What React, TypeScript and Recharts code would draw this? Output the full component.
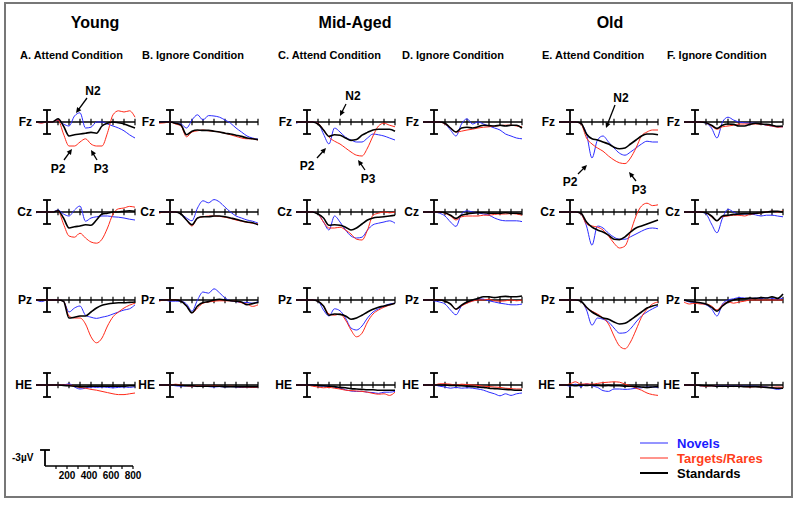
import { Line, LineChart, ReferenceLine, XAxis, YAxis } from "recharts";

// ERP amplitudes in µV (positive plotted downward), sampled every 50 ms from -100 to 800 ms
const times = [-100, -50, 0, 50, 100, 150, 200, 250, 300, 350, 400, 450, 500, 550, 600, 650, 700, 750, 800];
const axisTicks = [100, 200, 300, 400, 500, 600, 700, 800];
const calibLabels = [200, 400, 600, 800];

// Young - attend (A)
const aFzNov = [0, 0.2, 0, 0, -0.5, 0.5, 1, -1.5, -2.3, 1.5, 1.3, 0, 0, 0.5, 1, 1.5, 2.2, 3.2, 4];
const aFzTar = [0, 0.3, 0, 0, -0.5, 3, 6, 6, 5, 4.2, 5.5, 6, 6, 2.7, -1.8, -2.8, -2.5, -2.8, -1.2];
const aFzStd = [0, 0, 0, 0, -0.8, 1, 3.5, 3.2, 3, 2.8, 2.6, 2.8, 1, 0.3, 0, 0.2, 0.5, 1, 1.5];
const aCzNov = [0.2, 0, 0, 0, -0.5, 0.5, 1, -0.5, -1.5, 2.3, 1.5, 1.2, 1, 1, 1.2, 1.3, 1.5, 1.8, 2];
const aCzTar = [0, 0, 0, 0, -0.3, 3, 6, 6.3, 5.3, 6.5, 7.5, 7.8, 6.8, 4, 0.5, -0.8, -1, -1.4, -1.2];
const aCzStd = [0, 0, 0, 0, -0.3, 1.5, 4, 3.7, 3.5, 3.2, 3.3, 2, 0.5, 0.3, 0, 0, -0.2, -0.3, -0.2];
const aPzNov = [0, 0.4, 0, 0, 0, 0.3, 3, 2, 1.5, 3.8, 4.3, 4.6, 4.3, 4, 3.5, 3, 2.5, 2.2, 1.2];
const aPzTar = [0, 0, 0, 0, 0, 0.3, 4, 4.5, 4.5, 6, 9.2, 10.7, 9.5, 6.5, 4.2, 3, 2, 1.3, 0.8];
const aPzStd = [0, 0, 0, 0, 0, 0.3, 4.5, 4.3, 4, 4, 3, 2, 1.3, 1, 0.8, 0.7, 0.7, 0.6, 0.5];
const aHeNov = [0, 0, 0, 0, 0, 0, -0.3, 0.5, 1, 0.8, 0.5, 0.6, 0.5, 0.6, 0.7, 0.6, 0.5, 0.6, 0.4];
const aHeTar = [0, 0, 0, 0, 0, 0, 0, 0.3, 0.6, 0.8, 1.1, 1.3, 1.6, 1.9, 2.2, 2.4, 2.4, 2.2, 2];
const aHeStd = [0, 0, 0, 0, 0, 0.1, 0.2, 0.3, 0.4, 0.4, 0.3, 0.3, 0.3, 0.3, 0.3, 0.3, 0.3, 0.2, 0.2];

// Young - ignore (B)
const bFzNov = [0, 0, 0, 0.3, 0.5, 1.5, -0.5, -1.8, -0.5, -1.6, -1.5, -1.2, -0.5, 0.3, 1.5, 2.5, 3.5, 4, 4.3];
const bFzTar = [0.3, 0.2, 0, 0.5, 1, 3.7, 2.5, 2.2, 2, 2.2, 2.3, 2.5, 2.8, 3.2, 3.6, 4, 4.2, 4.2, 4.5];
const bFzStd = [0, 0, 0, 0.3, 0.8, 3.2, 2.3, 2, 2.1, 2.1, 2.3, 2.5, 2.8, 3, 3.3, 3.6, 4, 4.2, 4.4];
const bCzNov = [0, 0, 0, 0, 0.5, 1.5, 2.2, -1, -2.8, -2.3, -3.1, -2.5, -1.2, 0, 1, 1.5, 2, 2.3, 2.8];
const bCzTar = [0.3, 0, 0, 0, 0.5, 2, 3.5, 1.5, 1.2, 1, 1, 1.1, 1.3, 1.6, 2, 2.3, 2.6, 2.8, 3];
const bCzStd = [0, 0, 0, 0, 0.5, 2, 3.2, 1.5, 1.2, 1.2, 1, 1, 1.2, 1.5, 1.8, 2.2, 2.5, 2.7, 3.2];
const bPzNov = [0, 0, 0.3, 0.3, 0.3, 1, 2.8, 0, -2, -1.7, -2.8, -1.8, -0.5, 0.2, 0.4, 0.6, 0.6, 0.8, 0.4];
const bPzTar = [0.3, 0, 0, 0, 0.3, 1.5, 3.2, 2, 0.8, 0.5, 0.3, 0.2, 0.2, 0.2, 0.3, 0.7, 1, 1.6, 1.2];
const bPzStd = [0, 0, 0, 0, 0.3, 1.5, 3.2, 1.5, 0.6, 0.4, 0, -0.2, 0, 0.2, 0.3, 0.5, 1.2, 0.9, 0.6];
const bHeNov = [0, 0, 0, 0.2, 0.3, 0.2, 0.3, 0.4, 0.3, 0.4, 0.5, 0.4, 0.5, 0.4, 0.5, 0.6, 0.5, 0.6, 0.5];
const bHeTar = [0, 0, 0, -0.2, 0, 0.2, 0.3, 0.2, 0.3, 0.3, 0.2, 0.3, 0.4, 0.3, 0.4, 0.5, 0.5, 0.6, 0.5];
const bHeStd = [0, 0, 0, 0, 0.1, 0.2, 0.2, 0.3, 0.3, 0.3, 0.3, 0.3, 0.4, 0.4, 0.4, 0.4, 0.4, 0.4, 0.4];

// Mid-aged - attend (C)
const cFzNov = [0.3, 0, 0, 0, 0.3, 3, 5.5, 1.5, 2.5, 3.8, 4.5, 5, 5, 4, 3, 3.2, 3.5, 4, 4.5];
const cFzTar = [0, 0, 0, 0, 0.3, 2, 3.8, 4.8, 5.5, 6.5, 7.5, 8.3, 8.5, 6.5, 3.5, 1, 0.3, 0.8, 1.2];
const cFzStd = [0, 0, 0, 0, 0.5, 2, 3.6, 3.2, 3.3, 4, 4.6, 4.4, 3.3, 2.6, 2, 1.8, 1.8, 1.8, 2.3];
const cCzNov = [0, 0, 0, 0, 0.5, 2.5, 4.5, 1, 2.5, 4.5, 6, 6.5, 6.3, 4.5, 3.2, 2.8, 2.5, 2.2, 2.8];
const cCzTar = [0, 0, 0, 0, 0.5, 2.5, 4, 4, 3.8, 4.5, 5.5, 6.8, 7, 4.5, 0.8, 0.3, 0, 0.2, 0];
const cCzStd = [0, 0, 0, 0, 0.5, 1.5, 3.3, 3.2, 3.3, 3.8, 4.5, 4, 3, 2, 1.5, 1.3, 1.2, 1, 0.8];
const cPzNov = [0, 0, 0, 0, 0.3, 2.5, 4, 2.2, 2.7, 4.5, 7, 7.5, 6.5, 4.5, 3, 2.2, 1.5, 1, 0.8];
const cPzTar = [0, 0, 0, 0, 0.3, 1.5, 3.5, 3.8, 3.5, 5, 7.5, 9.2, 8.3, 5.5, 3.5, 2.5, 1.8, 1.3, 0.8];
const cPzStd = [0, 0, 0, 0, 0.3, 1.5, 3.8, 3.5, 3.6, 4, 4.8, 4.5, 3.8, 3, 2.3, 1.8, 1.5, 1.2, 0.8];
const cHeNov = [0, 0, 0, 0, 0.2, 0.3, 0.3, 0.5, 0.8, 1.2, 1.5, 1.6, 1.6, 1.8, 1.9, 2.1, 1.8, 1.8, 1.6];
const cHeTar = [0, 0, 0, 0.3, 0.5, 0.7, 0.6, 0.8, 1, 1.3, 1.4, 1.5, 1.6, 1.8, 2.1, 2.3, 2.2, 2.6, 1.8];
const cHeStd = [0, 0, 0, 0, 0.1, 0.2, 0.3, 0.4, 0.6, 0.7, 0.9, 1, 1.1, 1.2, 1.2, 1.3, 1.3, 1.3, 1.3];

// Mid-aged - ignore (D)
const dFzNov = [0, 0, 0, 0, 0.5, 2, 3.5, 0.5, -0.8, 0.5, 0, 0.5, 1, 1.5, 2, 3, 3.5, 4, 4.2];
const dFzTar = [0, 0, 0, 0, 0.5, 1.5, 2.5, 2.3, 2, 1.8, 1.5, 1.3, 1.2, 1, 0.9, 0.8, 0.8, 1, 1.2];
const dFzStd = [0, 0, 0, 0, 0.3, 1.5, 2.5, 1.5, 1.3, 1.5, 1.2, 0.8, 0.9, 1, 0.8, 1, 0.8, 0.8, 1.5];
const dCzNov = [0, 0, 0, 0.3, 1, 2.5, 3.6, 0.5, -0.3, 0, 0.2, 0.5, 0.8, 1.5, 2, 2.2, 2.2, 2.2, 2.4];
const dCzTar = [0, 0, 0, 0, 0.3, 1, 2, 1.2, 1, 1, 1, 0.8, 0.8, 0.6, 0.5, 0.5, 0.4, 0.5, 0.8];
const dCzStd = [0, 0, 0, 0, 0.2, 0.8, 1.6, 0.8, 0.5, 0.3, 0.2, 0.2, 0.3, 0.3, 0.3, 0.2, 0.3, 0.3, 0.5];
const dPzNov = [0, 0, 0.2, 0.5, 1, 2.5, 3.7, 1.5, 0.7, 0.2, -0.3, -0.2, 0.2, 0.5, 0.8, 1, 1.2, 1.2, 1];
const dPzTar = [0, 0, 0, 0, 0.3, 1, 2.3, 1.5, 0.8, 0.3, 0, 0, -0.2, 0.2, 0.3, 0.2, 0, 0.2, 0];
const dPzStd = [0, 0, 0, 0, 0.3, 1, 2.3, 1.3, 0.5, 0, -0.4, -0.8, -0.8, -0.6, -0.8, -0.9, -0.8, -0.8, -1];
const dHeNov = [0, 0, 0, 0.3, 0.5, 0.8, 0.6, 0.8, 0.7, 0.8, 1, 1.3, 1.8, 2.2, 2.7, 2.2, 2.6, 2.2, 2];
const dHeTar = [0, 0, 0, -0.3, -0.3, -0.2, 0, -0.2, -0.1, 0, 0.1, 0.3, 0.4, 0.5, 0.6, 0.8, 0.9, 1, 1];
const dHeStd = [0, 0, 0, 0, 0, 0.1, 0.1, 0.2, 0.3, 0.4, 0.5, 0.6, 0.8, 0.9, 1, 1.1, 1.2, 1.3, 1.3];

// Old - attend (E)
const eFzNov = [0, 0, 0, 0, 0.5, 3, 9, 4.5, 3.5, 5, 6.5, 7.8, 8.3, 7.5, 6.5, 5.5, 4.8, 5, 5];
const eFzTar = [0, 0, 0, 0, 0.5, 4, 5.5, 6.5, 7.3, 8.5, 9.5, 10.2, 10.4, 9, 6.5, 3.5, 2.5, 2, 2];
const eFzStd = [0, 0, 0, 0, 0.3, 3, 4.2, 4.5, 5, 5.5, 6.3, 6.7, 6.5, 5.5, 4.5, 3.5, 3, 3, 3.2];
const eCzNov = [0, 0, 0, 0, 0.5, 3.5, 8.3, 3.5, 4, 5.3, 6.3, 6.8, 6.8, 6.2, 5.5, 4.8, 4.2, 4, 4.2];
const eCzTar = [0, 0, 0, 0, 0.5, 3, 3.5, 3.8, 4.5, 6, 7.8, 9, 8.5, 5, 1, -1.5, -2.2, -1.6, -1.8];
const eCzStd = [0, 0, 0, 0, 0.3, 2.5, 3.8, 4.5, 5, 5.8, 6.8, 6.9, 6.2, 5, 4, 3.5, 3, 2.5, 2];
const ePzNov = [0, 0, 0, 0, 0.3, 2.5, 6.3, 4.5, 4.8, 5.5, 7, 8.3, 8.2, 7.2, 5.5, 4, 3, 2.2, 1.5];
const ePzTar = [0, 0, 0, 0, 0.3, 2, 2.8, 3.5, 4.5, 6, 9, 11.5, 12.2, 10.5, 7.5, 4.3, 2.3, 1, 0.5];
const ePzStd = [0, 0, 0, 0, 0.3, 1.8, 3, 3.8, 4.5, 4.8, 5.5, 6, 5.8, 5, 4, 3, 2, 1.5, 1.2];
const eHeNov = [0, 0, 0.3, -0.2, 0.4, -0.3, 0.2, 0.6, 1.4, 1.6, 1, 1, 1.1, 1, 0.8, 0.7, 0.5, 0.5, 0.6];
const eHeTar = [0, 0, -0.3, -0.8, -0.2, -0.3, -0.2, -0.4, -0.6, -0.7, -0.8, -0.7, -0.2, 0.2, 0.8, 1.3, 2, 2.4, 2.6];
const eHeStd = [0, 0, 0, 0.2, 0, 0.1, 0, 0.1, 0.2, 0.1, 0.2, 0.2, 0.3, 0.3, 0.4, 0.5, 0.6, 0.5, 0.4];

// Old - ignore (F)
const fFzNov = [0, 0, 0, 0, 0.3, 1.5, 4, 0, -1.2, -0.5, 0, 0.2, 0.3, 0.3, 0.5, 0.8, 1, 1.2, 1.2];
const fFzTar = [0, 0, 0, 0, 0.2, 1, 1.8, 1.2, 1, 0.8, 0.5, 0.5, 0.5, 0.5, 0.5, 0.8, 1, 1.3, 1.2];
const fFzStd = [0, 0, 0, 0, 0.2, 0.8, 1.6, 0.8, 0.5, 0.6, 1, 1, 0.6, 0.3, 0.5, 0.6, 0.8, 1.1, 1];
const fCzNov = [0, 0, 0, 0, 0.5, 3, 5.2, 1.5, -0.7, 0, 0.5, 0.5, 0.5, 0.7, 1, 0.8, 0.8, 1, 1.2];
const fCzTar = [0, 0, 0, 0, 0.2, 1.2, 2.2, 1.2, 1, 0.8, 0.8, 1, 0.6, 0.4, 0.2, 0, -0.2, 0, -0.3];
const fCzStd = [0, 0, 0, 0, 0.2, 1, 2.2, 1, 0.8, 0.6, 0.5, 0.4, 0.4, 0.3, 0.2, 0, -0.2, -0.2, 0];
const fPzNov = [0, 0.5, 0.6, 0.8, 1.2, 2.2, 4, 1, 0, -0.3, -0.6, -0.5, -0.3, -0.5, -0.3, -0.6, -0.4, -0.2, -0.5];
const fPzTar = [0.5, 1, 0.8, 1, 1, 1.5, 2.5, 1.2, 0.5, 0.8, 0.5, 0.3, 0, 0, 0, 0, 0, 0, 0];
const fPzStd = [0, 0.3, 0.5, 0.7, 1, 1.8, 2.8, 1.5, 0.5, 0, -0.3, -0.3, -0.5, -0.4, -0.6, -0.5, -0.8, -0.4, -1.5];
const fHeNov = [0, 0, 0, 0.2, 0.2, 0.2, 0.2, 0.3, 0.2, 0.3, 0.2, 0.3, 0.3, 0.3, 0.4, 0.5, 0.8, 1.1, 0.8];
const fHeTar = [0, 0, 0, 0.2, 0.3, 0.2, 0.3, 0.4, 0.3, 0.4, 0.3, 0.4, 0.5, 0.4, 0.5, 0.6, 0.6, 0.5, 0.6];
const fHeStd = [0, 0, 0, 0.1, 0.2, 0.2, 0.3, 0.3, 0.3, 0.3, 0.3, 0.4, 0.4, 0.4, 0.5, 0.6, 0.7, 0.8, 0.8];

const groups = ["Young", "Mid-Aged", "Old"];
const conditions = [
  "A. Attend Condition",
  "B. Ignore Condition",
  "C. Attend Condition",
  "D. Ignore Condition",
  "E. Attend Condition",
  "F. Ignore Condition",
];
const electrodes = ["Fz", "Cz", "Pz", "HE"];

const columns = [
  [[aFzNov, aFzTar, aFzStd], [aCzNov, aCzTar, aCzStd], [aPzNov, aPzTar, aPzStd], [aHeNov, aHeTar, aHeStd]],
  [[bFzNov, bFzTar, bFzStd], [bCzNov, bCzTar, bCzStd], [bPzNov, bPzTar, bPzStd], [bHeNov, bHeTar, bHeStd]],
  [[cFzNov, cFzTar, cFzStd], [cCzNov, cCzTar, cCzStd], [cPzNov, cPzTar, cPzStd], [cHeNov, cHeTar, cHeStd]],
  [[dFzNov, dFzTar, dFzStd], [dCzNov, dCzTar, dCzStd], [dPzNov, dPzTar, dPzStd], [dHeNov, dHeTar, dHeStd]],
  [[eFzNov, eFzTar, eFzStd], [eCzNov, eCzTar, eCzStd], [ePzNov, ePzTar, ePzStd], [eHeNov, eHeTar, eHeStd]],
  [[fFzNov, fFzTar, fFzStd], [fCzNov, fCzTar, fCzStd], [fPzNov, fPzTar, fPzStd], [fHeNov, fHeTar, fHeStd]],
];

// layout (px)
const barX = [47, 170, 307, 434, 570, 695];
const baseY = [122, 212, 300, 385];
const titleX = [95, 355, 610];
const headerX = [20, 142, 278, 402, 542, 667];
const PX_MS = 0.11;
const PX_UV = 4;
const PAD = 5;

const NOVEL = "#2b2bff";
const TARGET = "#ff2a1a";
const FONT = "'Liberation Sans', Arial, sans-serif";

const Panel = ({ x0, y0, nov, tar, std }) => {
  const data = times.map((t, i) => ({ t, nov: nov[i], tar: tar[i], std: std[i] }));
  const w = 900 * PX_MS;
  const h = 22 * PX_UV;
  return (
    <div style={{ position: "absolute", left: x0 - 100 * PX_MS - PAD, top: y0 - 8 * PX_UV - PAD }}>
      <LineChart
        width={w + PAD * 2}
        height={h + PAD * 2}
        data={data}
        margin={{ top: PAD, right: PAD, bottom: PAD, left: PAD }}
      >
        <XAxis dataKey="t" type="number" domain={[-100, 800]} hide />
        <YAxis type="number" domain={[-8, 14]} reversed hide />
        <ReferenceLine y={0} stroke="#000" strokeWidth={1.5} />
        {axisTicks.map((t) => (
          <ReferenceLine key={t} segment={[{ x: t, y: -0.8 }, { x: t, y: 0.8 }]} stroke="#000" strokeWidth={1.2} />
        ))}
        <ReferenceLine segment={[{ x: 0, y: -3 }, { x: 0, y: 3 }]} stroke="#000" strokeWidth={1.8} />
        <ReferenceLine segment={[{ x: -36, y: -3 }, { x: 36, y: -3 }]} stroke="#000" strokeWidth={1.8} />
        <ReferenceLine segment={[{ x: -36, y: 3 }, { x: 36, y: 3 }]} stroke="#000" strokeWidth={1.8} />
        <Line type="monotone" dataKey="nov" stroke={NOVEL} strokeWidth={1} dot={false} isAnimationActive={false} />
        <Line type="monotone" dataKey="tar" stroke={TARGET} strokeWidth={1} dot={false} isAnimationActive={false} />
        <Line type="monotone" dataKey="std" stroke="#000" strokeWidth={1.6} dot={false} isAnimationActive={false} />
      </LineChart>
    </div>
  );
};

// scale bar + time axis in the lower left corner
const Calibration = () => {
  const w = 800 * PX_MS;
  const data = [0, 800].map((t) => ({ t, base: 0 }));
  const LEFT = 10;
  const RIGHT = 12;
  return (
    <div style={{ position: "absolute", left: 45 - LEFT, top: 466 - 6 * PX_UV - PAD }}>
      <LineChart
        width={w + LEFT + RIGHT}
        height={6 * PX_UV + PAD + 16}
        data={data}
        margin={{ top: PAD, right: RIGHT, bottom: 0, left: LEFT }}
      >
        <XAxis
          dataKey="t"
          type="number"
          domain={[0, 800]}
          ticks={axisTicks}
          interval={0}
          axisLine={false}
          tickLine={{ stroke: "#000", strokeWidth: 1.2 }}
          tickSize={3}
          tickMargin={3}
          height={16}
          tickFormatter={(v) => (calibLabels.includes(v) ? String(v) : "")}
          tick={{ fontSize: 10, fontWeight: "bold", fill: "#000", fontFamily: FONT }}
        />
        <YAxis type="number" domain={[-6, 0]} reversed hide />
        <ReferenceLine segment={[{ x: 0, y: -4 }, { x: 0, y: 0 }]} stroke="#000" strokeWidth={1.8} />
        <ReferenceLine
          segment={[{ x: -45, y: -4 }, { x: 45, y: -4 }]}
          stroke="#000"
          strokeWidth={1.8}
          ifOverflow="visible"
        />
        <Line type="linear" dataKey="base" stroke="#000" strokeWidth={1.5} dot={false} isAnimationActive={false} />
      </LineChart>
    </div>
  );
};

const Arrow = ({ x1, y1, x2, y2 }) => {
  const a = Math.atan2(y2 - y1, x2 - x1);
  const s = 6;
  const p1 = [x2 - s * Math.cos(a - 0.45), y2 - s * Math.sin(a - 0.45)];
  const p2 = [x2 - s * Math.cos(a + 0.45), y2 - s * Math.sin(a + 0.45)];
  return (
    <g>
      <line x1={x1} y1={y1} x2={x2 - 3 * Math.cos(a)} y2={y2 - 3 * Math.sin(a)} stroke="#000" strokeWidth={1.3} />
      <polygon points={`${x2},${y2} ${p1[0]},${p1[1]} ${p2[0]},${p2[1]}`} fill="#000" />
    </g>
  );
};

const notes = [
  { label: "N2", tx: 93, ty: 91, x1: 87, y1: 98, x2: 76, y2: 113 },
  { label: "P2", tx: 58, ty: 169, x1: 64, y1: 160, x2: 72, y2: 149 },
  { label: "P3", tx: 101, ty: 169, x1: 97, y1: 160, x2: 91, y2: 150 },
  { label: "N2", tx: 353, ty: 96, x1: 346, y1: 104, x2: 340, y2: 116 },
  { label: "P2", tx: 307, ty: 166, x1: 317, y1: 158, x2: 326, y2: 148 },
  { label: "P3", tx: 368, ty: 179, x1: 365, y1: 170, x2: 358, y2: 160 },
  { label: "N2", tx: 621, ty: 98, x1: 615, y1: 105, x2: 606, y2: 128 },
  { label: "P2", tx: 570, ty: 182, x1: 578, y1: 174, x2: 587, y2: 165 },
  { label: "P3", tx: 639, ty: 190, x1: 636, y1: 181, x2: 629, y2: 172 },
];

const legend = [
  { label: "Novels", color: NOVEL, text: "#1a1aff", width: 1 },
  { label: "Targets/Rares", color: TARGET, text: "#ff3d1a", width: 1 },
  { label: "Standards", color: "#000", text: "#000", width: 2 },
];

export default function App() {
  return (
    <div style={{ position: "absolute", left: 0, top: 0, width: 800, height: 507, background: "#fff", fontFamily: FONT }}>
      <svg width={800} height={507} style={{ position: "absolute", left: 0, top: 0 }}>
        <rect x={5} y={3} width={787} height={494} fill="none" stroke="#777" strokeWidth={2} />
        {groups.map((g, i) => (
          <text key={g} x={titleX[i]} y={28} textAnchor="middle" fontSize={16} fontWeight="bold" fontFamily={FONT}>
            {g}
          </text>
        ))}
        {conditions.map((c, i) => (
          <text key={c} x={headerX[i]} y={59} fontSize={11} fontWeight="bold" fontFamily={FONT}>
            {c}
          </text>
        ))}
        {barX.map((bx) =>
          electrodes.map((e, r) => (
            <text key={`${bx}-${e}`} x={bx - 15} y={baseY[r] + 4} textAnchor="end" fontSize={12} fontWeight="bold" fontFamily={FONT}>
              {e}
            </text>
          ))
        )}
        {notes.map((n, i) => (
          <g key={i}>
            <text x={n.tx} y={n.ty + 4} textAnchor="middle" fontSize={12} fontWeight="bold" fontFamily={FONT}>
              {n.label}
            </text>
            <Arrow x1={n.x1} y1={n.y1} x2={n.x2} y2={n.y2} />
          </g>
        ))}
        <text x={12} y={461} fontSize={10} fontWeight="bold" fontFamily={FONT}>
          -3µV
        </text>
        {legend.map((l, i) => (
          <g key={l.label}>
            <line x1={640} x2={668} y1={443 + i * 15} y2={443 + i * 15} stroke={l.color} strokeWidth={l.width} />
            <text x={677} y={448 + i * 15} fontSize={13} fontWeight="bold" fill={l.text} fontFamily={FONT}>
              {l.label}
            </text>
          </g>
        ))}
      </svg>
      {columns.map((col, c) =>
        col.map((rows, r) => (
          <Panel key={`${c}-${r}`} x0={barX[c]} y0={baseY[r]} nov={rows[0]} tar={rows[1]} std={rows[2]} />
        ))
      )}
      <Calibration />
    </div>
  );
}
